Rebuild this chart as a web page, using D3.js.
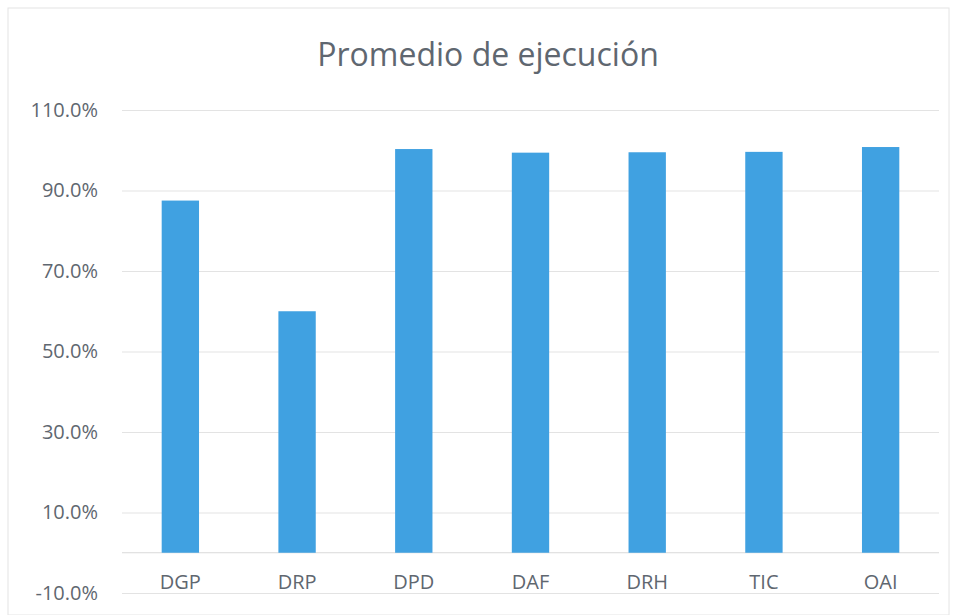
<!DOCTYPE html>
<html>
<head>
<meta charset="utf-8">
<script src="https://cdn.jsdelivr.net/npm/d3@7"></script>
<style>
    body { margin: 0; background: #fff; }
    text { font-family: "Open Sans", sans-serif; }
</style>
</head>
<body>
<div id="chart"></div>
<script>
// Chart data
const categories = ["DGP", "DRP", "DPD", "DAF", "DRH", "TIC", "OAI"];
const values = [0.875, 0.60, 1.003, 0.994, 0.995, 0.996, 1.008];
const yTicks = [-0.1, 0.1, 0.3, 0.5, 0.7, 0.9, 1.1];
const chartTitle = "Promedio de ejecución";

function init() {
    const w = 955;
    const h = 615;
    const left = 122, right = 939; // plot area edges
    const top = 110, bottom = 593; // 110% and -10% lines

    const svg = d3.select("#chart")
        .append("svg")
        .attr("width", w)
        .attr("height", h);

    // Light frame around the chart area
    svg.append("rect")
        .attr("x", 8).attr("y", 8)
        .attr("width", w - 14).attr("height", h - 8)
        .attr("fill", "none")
        .attr("stroke", "#e4e4e4");

    const xScale = d3.scaleBand()
        .domain(categories)
        .range([left, right])
        .paddingInner(0.68)
        .paddingOuter(0.34);

    const yScale = d3.scaleLinear()
        .domain([-0.1, 1.1])
        .range([bottom, top]);

    // Gridlines
    svg.append("g")
        .attr("transform", `translate(${left},0)`)
        .call(d3.axisLeft(yScale)
            .tickValues(yTicks)
            .tickSize(-(right - left))
            .tickFormat(""))
        .call(g => g.select(".domain").remove())
        .selectAll("line")
        .attr("stroke", "#e3e3e3")
        .attr("stroke-width", 1);

    // Baseline at zero
    svg.append("line")
        .attr("x1", left).attr("x2", right)
        .attr("y1", yScale(0)).attr("y2", yScale(0))
        .attr("stroke", "#d9d9d9");

    // Bars
    svg.selectAll("rect.bar")
        .data(categories)
        .enter()
        .append("rect")
        .attr("class", "bar")
        .attr("x", d => xScale(d))
        .attr("width", xScale.bandwidth())
        .attr("y", (d, i) => yScale(values[i]))
        .attr("height", (d, i) => yScale(0) - yScale(values[i]))
        .attr("fill", "#40a1e1");

    // Y axis labels (plain hyphen for negatives, like the original)
    const pct = d3.format(".1%");
    svg.append("g")
        .attr("transform", `translate(98,0)`)
        .call(d3.axisLeft(yScale)
            .tickValues(yTicks)
            .tickSize(0)
            .tickPadding(0)
            .tickFormat(d => pct(d).replace("\u2212", "-")))
        .call(g => g.select(".domain").remove())
        .selectAll("text")
        .attr("font-family", "'Open Sans', sans-serif")
        .attr("font-size", "20px")
        .attr("fill", "#5f6770");

    // Category labels
    svg.append("g")
        .attr("transform", `translate(0,${yScale(0)})`)
        .call(d3.axisBottom(xScale).tickSize(0).tickPadding(22))
        .call(g => g.select(".domain").remove())
        .selectAll("text")
        .attr("font-family", "'Open Sans', sans-serif")
        .attr("font-size", "20px")
        .attr("fill", "#5f6770");

    // Title
    svg.append("text")
        .attr("x", 488)
        .attr("y", 66)
        .attr("text-anchor", "middle")
        .attr("font-size", "32px")
        .attr("fill", "#5f6770")
        .text(chartTitle);
}

window.onload = init;
</script>
</body>
</html>
